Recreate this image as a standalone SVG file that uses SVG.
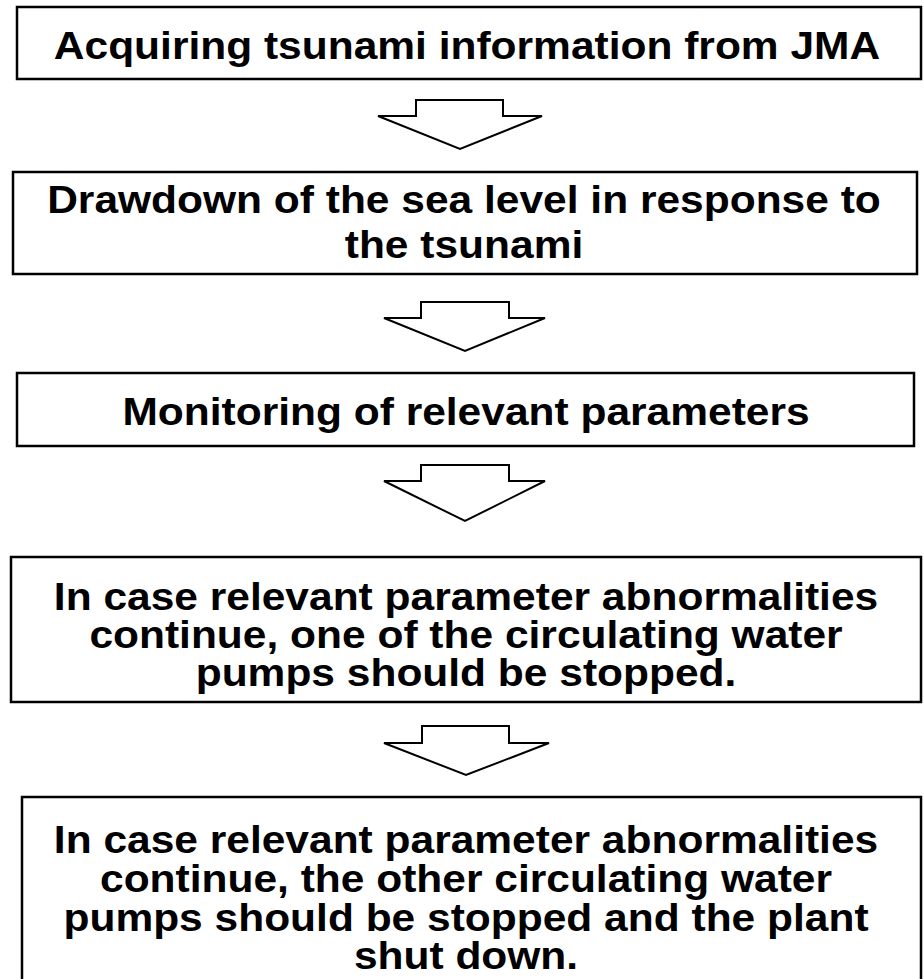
<svg xmlns="http://www.w3.org/2000/svg" width="924" height="979" viewBox="0 0 924 979">
<style>
.box{fill:#fff;stroke:#000;stroke-width:2.5}
.arr{fill:#fff;stroke:#000;stroke-width:2;stroke-linejoin:miter}
text{font-family:"Liberation Sans",Arial,sans-serif;font-weight:bold;font-size:39px;fill:#000;text-anchor:middle}
</style>
<rect width="924" height="979" fill="#fff"/>
<g id="connectors">
<polygon class="arr" points="416,100 503,100 503,116 542,116 460,149 378,116 416,116"/>
<polygon class="arr" points="421,302 509,302 509,318 545,318 465,351 384,318 421,318"/>
<polygon class="arr" points="421,465 509,465 509,481 545,481 465,521 384,481 421,481"/>
<polygon class="arr" points="422,726 509,726 509,743 549,743 466,775 384,743 422,743"/>
</g>
<g id="n1">
<rect class="box" x="17" y="7" width="904" height="72"/>
<g transform="translate(467,0) scale(1.09,1)"><text x="0" y="59">Acquiring tsunami information from JMA</text></g>
</g>
<g id="n2">
<rect class="box" x="13" y="172" width="904" height="102"/>
<g transform="translate(464,0) scale(1.09,1)"><text x="0" y="213">Drawdown of the sea level in response to</text><text x="0" y="258">the tsunami</text></g>
</g>
<g id="n3">
<rect class="box" x="17" y="373" width="897" height="73"/>
<g transform="translate(466,0) scale(1.09,1)"><text x="0" y="425">Monitoring of relevant parameters</text></g>
</g>
<g id="n4">
<rect class="box" x="11" y="557" width="910" height="145"/>
<g transform="translate(466,0) scale(1.09,1)"><text x="0" y="610">In case relevant parameter abnormalities</text><text x="0" y="648">continue, one of the circulating water</text><text x="0" y="686">pumps should be stopped.</text></g>
</g>
<g id="n5">
<rect class="box" x="22" y="797" width="899" height="190"/>
<g transform="translate(466,0) scale(1.09,1)"><text x="0" y="853">In case relevant parameter abnormalities</text><text x="0" y="892">continue, the other circulating water</text><text x="0" y="931">pumps should be stopped and the plant</text><text x="0" y="969">shut down.</text></g>
</g>
</svg>
